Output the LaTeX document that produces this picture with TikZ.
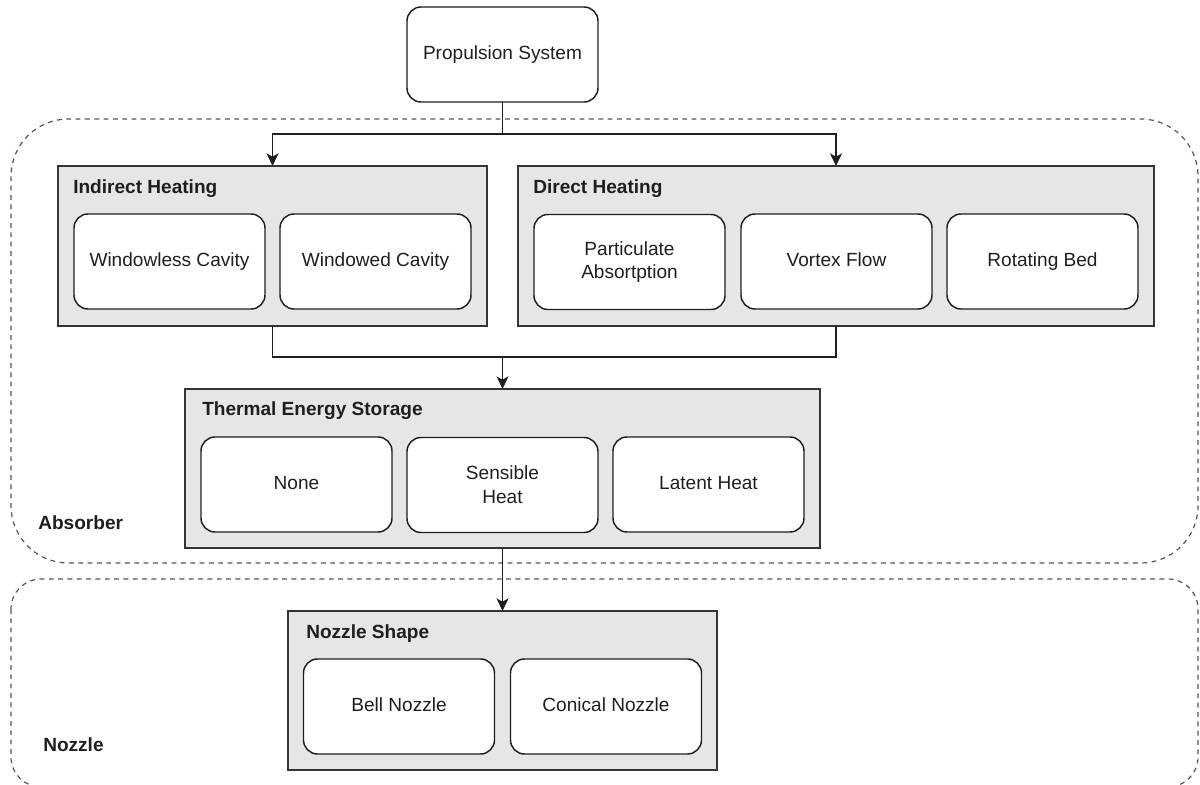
\documentclass[tikz,border=0pt]{standalone}
\usepackage{fontspec}
\setmainfont{Liberation Sans}
\usetikzlibrary{arrows.meta}
\definecolor{grpfill}{HTML}{E6E6E6}
\definecolor{ink}{HTML}{1F1F1F}
\definecolor{dashink}{HTML}{555555}
\begin{document}
\begin{tikzpicture}[x=0.75pt,y=-0.75pt,
  txt/.style={font=\fontsize{14.3pt}{17.8pt}\selectfont, text=ink},
  cell/.style={txt, draw=ink, fill=white, line width=1.1pt, rounded corners=10.5pt,
    minimum width=191*0.75pt, minimum height=95*0.75pt, inner sep=0pt, outer sep=0pt, align=center},
  one/.style={text height=0.9em, text depth=0.18em},
  grp/.style={draw=ink!90, fill=grpfill, line width=1.1pt, inner sep=0pt, outer sep=0pt},
  grplabel/.style={txt, font=\fontsize{14.3pt}{17.5pt}\selectfont\bfseries, anchor=west, inner sep=0pt},
  region/.style={draw=dashink, line width=0.9pt, dash pattern=on 3.6pt off 3.4pt},
  reglabel/.style={txt, font=\fontsize{14.3pt}{17.5pt}\selectfont\bfseries, anchor=west, inner sep=0pt},
  arr/.style={draw=ink, line width=1.1pt, -{Stealth[length=9.5pt, width=9pt, inset=2.5pt]}},
  ln/.style={draw=ink, line width=1.1pt}
]
\useasboundingbox (0,0) rectangle (1200,785);
\fill[white] (0,0) rectangle (1200,785);

% dashed regions
\draw[region, rounded corners=43pt] (11,119) rectangle (1198,563);
\draw[region, rounded corners=22.5pt] (11,579) rectangle (1198,787);
\node[reglabel] (absL) at (38,523) {Absorber};
\node[reglabel] (nozL) at (43,745) {Nozzle};

% top node
\node[cell, one] (prop) at (502.5,54.5) {Propulsion System};

% groups
\node[grp, minimum width=429*0.75pt, minimum height=160*0.75pt] (ind) at (272.5,246) {};
\node[grp, minimum width=636*0.75pt, minimum height=160*0.75pt] (dir) at (836,246) {};
\node[grp, minimum width=635*0.75pt, minimum height=159*0.75pt] (tes) at (502.5,468.5) {};
\node[grp, minimum width=429*0.75pt, minimum height=159*0.75pt] (noz) at (502.5,690.5) {};

\node[grplabel] (indL) at (73,189) {Indirect Heating};
\node[grplabel] (dirL) at (533,189) {Direct Heating};
\node[grplabel] (tesL) at (202,411) {Thermal Energy Storage};
\node[grplabel] (nozS) at (306,634) {Nozzle Shape};

% cells
\node[cell, one] (c1) at (169.5,261.5) {Windowless Cavity};
\node[cell, one] (c2) at (375.5,261.5) {Windowed Cavity};
\node[cell] (c3) at (629.5,262) {Particulate\\Absortption};
\node[cell, one] (c4) at (836.5,261.5) {Vortex Flow};
\node[cell, one] (c5) at (1042.5,261.5) {Rotating Bed};
\node[cell, one] (c6) at (296.5,484.5) {None};
\node[cell] (c7) at (502.5,485) {Sensible\\Heat};
\node[cell, one] (c8) at (708.5,484.5) {Latent Heat};
\node[cell, one] (c9) at (399,706.5) {Bell Nozzle};
\node[cell, one] (c10) at (606,706.5) {Conical Nozzle};

% connectors
\coordinate (j1) at (502.5,134);
\coordinate (j2) at (502.5,357);
\draw[ln] (prop.south) -- (j1);
\draw[arr] (j1) -| (ind.north);
\draw[arr] (j1) -| (dir.north);
\draw[ln] (ind.south) |- (j2);
\draw[ln] (dir.south) |- (j2);
\draw[arr] (j2) -- (tes.north);
\draw[arr] (tes.south) -- (noz.north);
\end{tikzpicture}
\end{document}
